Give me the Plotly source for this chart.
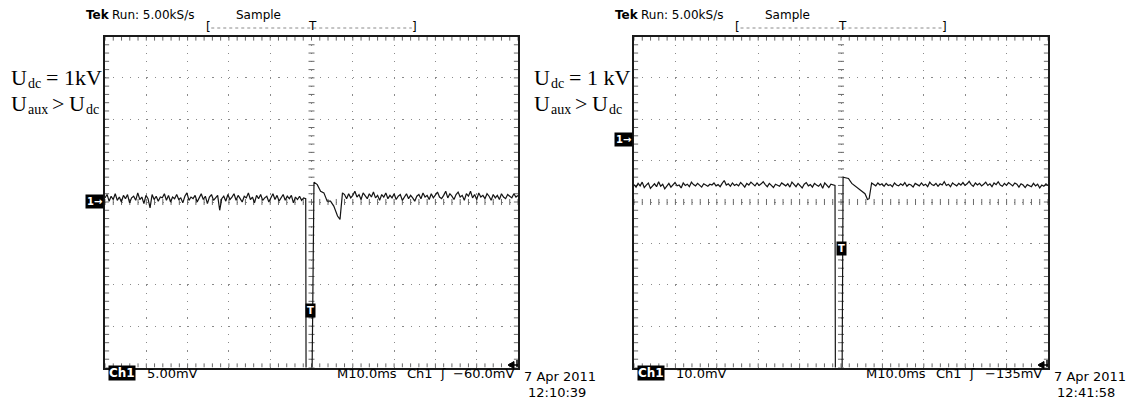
import numpy as np
import plotly.graph_objects as go

# ---------------------------------------------------------------
# Two Tektronix captures of channel 1 (10 ms/div, 5 kS/s)
# ---------------------------------------------------------------
TIME_PER_DIV = 10.0          # ms / div
H_DIVS, V_DIVS = 10, 8

# Capture A : Udc = 1 kV, 5 mV/div, ground at screen centre
a_volts_per_div = 5.0
a_ground_offset_div = 0.0
a_pre = [0.5, 0.9, 0.1, 0.7, 0.3, 1.0, 0.2, 0.6, 0.0, 0.8, 0.4, 0.9, -0.1, 0.5, 0.7, 0.2, 1.1, 0.3,
         0.6, -0.2, 0.8, 0.4, -0.7, 0.9, 0.3, 0.7, 0.1, 0.6, 0.5, 1.0, 0.2, 0.8, 0.0, 0.6, 0.4, 0.9,
         0.3, 0.5, -0.1, 0.7, 1.1, 0.2, 0.6, 0.4, 0.8, 0.0, 0.5, 1.0, 0.3, 0.7, -0.2, 0.6, 0.9, 0.2,
         0.5, 0.8, -1.0, 0.4, 0.7, 0.1, 0.9, 0.3, 0.6, 1.0, 0.2, 0.8, 0.4, 0.0, 0.7, 0.5, 1.1, 0.3,
         0.6, -0.1, 0.8, 0.4, 0.9, 0.2, 0.5, 0.7, 0.0, 0.6, 1.0, 0.3, 0.8, 0.1, 0.5, 0.9, 0.2, 0.7,
         0.4, 0.8, -0.1, 0.6, 0.3, 0.7, 0.2, 0.5]
a_event_t = [-1.4, -1.3, 0.05, 0.6, 1.4, 2.2, 3.0, 3.8, 4.6, 5.4, 6.3, 6.9, 7.5]
a_event_v = [0.4, -25.0, -25.0, 2.4, 2.1, 1.3, 1.1, 0.1, 0.1, -0.5, -1.7, -2.1, 1.1]
a_post = [0.9, 0.4, 1.0, 0.5, 0.8, 1.3, 0.6, 0.9, 0.3, 1.1, 0.7, 0.4, 1.0, 0.6, 1.2, 0.5, 0.8, 0.2,
          0.9, 0.6, 1.1, 0.4, 0.8, 0.5, 1.0, 0.3, 0.7, 0.9, 0.2, 0.6, 1.0, 0.4, 0.8, 0.5, 0.1, 0.7,
          0.9, 0.4, 1.1, 0.6, 0.8, 0.3, 1.0, 0.5, 0.9, 1.2, 0.6, 0.4, 0.8, 1.3, 0.5, 1.0, 0.7, 0.3,
          0.9, 1.2, 0.6, 0.8, 0.2, 1.0, 0.7, 1.3, 0.5, 0.9, 0.3, 1.1, 0.6, 0.8, 0.4, 1.0, 0.7, 0.2,
          0.9, 0.5, 0.8, 0.3, 1.0, 0.6, 0.4, 0.9, 0.7, 0.5, 1.0, 0.6, 0.8]

# Capture B : Udc = 1 kV, 10 mV/div, ground 1.5 div above centre
b_volts_per_div = 10.0
b_ground_offset_div = 1.5
b_pre = [-10.8, -11.4, -10.5, -11.1, -10.2, -11.5, -10.9, -10.4, -11.7, -11.0, -10.6, -11.3, -10.1,
         -11.2, -10.7, -11.8, -11.0, -10.5, -11.4, -10.8, -10.3, -11.1, -10.9, -11.6, -10.4, -11.0,
         -10.7, -11.3, -10.2, -10.8, -11.1, -10.5, -10.9, -11.4, -10.6, -11.0, -11.2, -10.7, -10.9,
         -10.4, -11.1, -10.8, -11.3, -10.5, -9.8, -10.9, -10.6, -11.2, -10.4, -11.0, -10.7, -11.1,
         -10.3, -10.8, -11.4, -10.5, -10.9, -10.2, -10.7, -11.1, -10.4, -11.0, -10.6, -10.1, -10.8,
         -11.3, -10.5, -10.9, -11.5, -10.7, -11.0, -11.2, -10.4, -10.8, -11.1, -10.6, -11.4, -10.2,
         -10.9, -11.3, -10.5, -11.0, -11.6, -10.7, -10.3, -11.1, -10.8, -11.4, -10.5, -10.9, -11.2,
         -10.6, -11.7, -10.4, -11.0, -11.5, -10.7, -10.9]
b_event_t = [-1.45, -1.35, 0.25, 0.5, 1.8, 2.6, 3.8, 5.0, 5.8, 6.4, 6.8, 7.4]
b_event_v = [-11.0, -60.0, -60.0, -9.0, -9.3, -10.5, -11.4, -12.2, -13.0, -14.4, -14.2, -10.4]
b_post = [-10.7, -11.1, -10.4, -10.9, -10.6, -11.2, -10.5, -11.0, -10.8, -11.3, -10.4, -10.9, -11.1,
          -10.6, -11.0, -10.3, -11.2, -10.7, -10.9, -11.4, -10.5, -10.8, -11.1, -10.4, -11.0, -10.7,
          -11.3, -10.2, -10.8, -11.0, -10.5, -11.2, -10.6, -10.9, -10.1, -11.0, -10.7, -11.3, -10.4,
          -10.8, -11.1, -10.5, -10.9, -10.3, -11.0, -10.6, -10.0, -10.8, -11.2, -10.4, -10.9, -10.5,
          -11.1, -10.7, -10.2, -11.0, -10.6, -11.3, -10.4, -10.8, -10.1, -10.9, -11.2, -10.5, -11.0,
          -10.3, -10.8, -11.1, -10.4, -10.7, -11.4, -10.6, -10.9, -11.5, -10.8, -11.0, -11.3, -10.5,
          -11.1, -10.7, -11.6, -10.9, -11.2, -10.6, -11.0]

# ---------------------------------------------------------------
W, H = 1132, 403
TEK_FONT = "DejaVu Sans"
SERIF = "Liberation Serif"


def fx(px):
    return px / W


def fy(py):
    return 1 - py / H


FRAME_TOP, FRAME_BOT = 36.5, 367.5
panels = [
    dict(name="A", x0=105, x1=518, vpd=a_volts_per_div, gnd=a_ground_offset_div,
         pre=a_pre, ev_t=a_event_t, ev_v=a_event_v, post=a_post),
    dict(name="B", x0=634, x1=1048, vpd=b_volts_per_div, gnd=b_ground_offset_div,
         pre=b_pre, ev_t=b_event_t, ev_v=b_event_v, post=b_post),
]

t_half = TIME_PER_DIV * H_DIVS / 2
fig = go.Figure()
layout = dict(width=W, height=H, autosize=False, margin=dict(l=0, r=0, t=0, b=0),
              paper_bgcolor="white", plot_bgcolor="white", showlegend=False)

GRID = dict(showgrid=True, gridcolor="#8a8a8a", gridwidth=1, griddash="1.2px,7.06px",
            zeroline=False, showticklabels=False, ticks="",
            showline=True, mirror=True, linecolor="#1a1a1a", linewidth=1.5)

for i, p in enumerate(panels):
    sfx = "" if i == 0 else str(i + 1)
    xa, ya = "x" + sfx, "y" + sfx
    yc = -p["gnd"] * p["vpd"]                  # screen centre in volts
    ylo, yhi = yc - V_DIVS / 2 * p["vpd"], yc + V_DIVS / 2 * p["vpd"]

    layout["xaxis" + sfx] = dict(GRID, domain=[fx(p["x0"]), fx(p["x1"])], range=[-t_half, t_half],
                                 tick0=0, dtick=TIME_PER_DIV, anchor=ya, fixedrange=True)
    layout["yaxis" + sfx] = dict(GRID, domain=[fy(FRAME_BOT), fy(FRAME_TOP)], range=[ylo, yhi],
                                 tick0=yc, dtick=p["vpd"], anchor=xa, fixedrange=True)

    # graticule tick marks: centre cross and frame edges, 5 per division
    hx, hy = 0.073 * TIME_PER_DIV, 0.073 * p["vpd"]
    ex, ey = 0.1 * TIME_PER_DIV, 0.1 * p["vpd"]
    gx, gy = [], []
    for k in range(H_DIVS * 5 + 1):
        x = -t_half + k * TIME_PER_DIV / 5
        gx += [x, x, None, x, x, None, x, x, None]
        gy += [yc - hy, yc + hy, None, yhi, yhi - ey, None, ylo, ylo + ey, None]
    for k in range(V_DIVS * 5 + 1):
        y = ylo + k * p["vpd"] / 5
        gx += [-hx, hx, None, -t_half, -t_half + ex, None, t_half - ex, t_half, None]
        gy += [y, y, None, y, y, None, y, y, None]
    fig.add_trace(go.Scatter(x=gx, y=gy, mode="lines", xaxis=xa, yaxis=ya,
                             line=dict(color="#6a6a6a", width=1), hoverinfo="skip"))

    # the captured waveform
    t_pre = np.linspace(-t_half, p["ev_t"][0] - 0.5, len(p["pre"]))
    t_post = np.linspace(p["ev_t"][-1] + 0.5, t_half, len(p["post"]))
    t = np.concatenate([t_pre, p["ev_t"], t_post])
    v = np.concatenate([p["pre"], p["ev_v"], p["post"]])
    fig.add_trace(go.Scatter(x=t, y=v, mode="lines", xaxis=xa, yaxis=ya,
                             line=dict(color="#141414", width=1.2), hoverinfo="skip"))

fig.update_layout(**layout)

ann = []


def text(x, y, s, size=13, anchor="left", family=TEK_FONT, color="black", bg=None, pad=0,
         weight="normal"):
    ann.append(dict(xref="paper", yref="paper", x=fx(x), y=fy(y), text=s, showarrow=False,
                    xanchor=anchor, yanchor="middle", borderpad=pad,
                    bgcolor=bg if bg else "rgba(0,0,0,0)",
                    font=dict(family=family, size=size, color=color, weight=weight)))


shapes = []
for i, p in enumerate(panels):
    x0, x1 = p["x0"], p["x1"]
    xm = (x0 + x1) / 2
    span = x1 - x0
    # header
    text(x0 - 20, 15, "Tek", size=12, weight="bold")
    text(x0 + 6, 15, "Run: 5.00kS/s", size=12)
    text(x0 + 130, 15, "Sample", size=12)
    # record-position bracket
    bl, br = x0 + span * 0.25, x0 + span * 0.75
    text(bl, 27, "[", size=12, anchor="center")
    text(br, 27, "]", size=12, anchor="center")
    text(xm + 1, 26, "T", size=12, anchor="center")
    shapes.append(dict(type="line", xref="paper", yref="paper", x0=fx(bl + 3), x1=fx(br - 3),
                       y0=fy(28), y1=fy(28), line=dict(color="#8a8a8a", width=1, dash="dot")))
    # ground reference marker
    gnd_y = FRAME_TOP + (V_DIVS / 2 - p["gnd"]) * (FRAME_BOT - FRAME_TOP) / V_DIVS
    text(x0 - 1, gnd_y, "1→", size=10, anchor="right", color="white", bg="black", pad=1,
         weight="bold")
    # bottom read-out
    text(x0 + 3, 373, "Ch1", size=12, color="white", bg="black", pad=0, weight="bold")
    text(x0 + 231, 373, "M10.0ms", size=13)
    text(x0 + 301, 373, "Ch1", size=13)
    text(x0 + 334, 373, "ʃ", size=13)
    # trigger level indicator (bottom right corner)
    shapes.append(dict(type="path", xref="paper", yref="paper",
                       path=f"M {fx(x1 - 10)} {fy(365)} L {fx(x1 - 4)} {fy(361.5)} "
                            f"L {fx(x1 - 4)} {fy(368.5)} Z",
                       fillcolor="black", line=dict(color="black", width=1)))
    shapes.append(dict(type="line", xref="paper", yref="paper", x0=fx(x1 - 4), x1=fx(x1),
                       y0=fy(365), y1=fy(365), line=dict(color="black", width=1.5)))
    shapes.append(dict(type="line", xref="paper", yref="paper", x0=fx(x1 - 1), x1=fx(x1 - 1),
                       y0=fy(360), y1=fy(367), line=dict(color="black", width=1.5)))

# Capture-specific read-outs
text(146, 373, "5.00mV", size=13)
text(516, 373, "−60.0mV", size=13, anchor="right")
text(523, 376, "7 Apr 2011", size=13)
text(527, 392, "12:10:39", size=13)

text(675, 373, "10.0mV", size=13)
text(1043, 373, "−135mV", size=13, anchor="right")
text(1053, 376, "7 Apr 2011", size=13)
text(1056, 392, "12:41:58", size=13)

# trigger markers on the waveforms
text(310, 310, "T", size=10, anchor="center", color="white", bg="black", pad=1, weight="bold")
text(841, 248, "T", size=10, anchor="center", color="white", bg="black", pad=1, weight="bold")


# operating-point captions: symbol, subscript and the rest set as separate runs
def caption(x, y, runs):
    for dx, s, sub in runs:
        if sub:
            text(x + dx, y + 6, s, size=14, family=SERIF)
        else:
            text(x + dx, y, s, size=22, family=SERIF)


line_aux = [(0, "U", False), (17, "aux", True), (41, ">", False), (58, "U", False), (75, "dc", True)]
caption(10, 77, [(0, "U", False), (17, "dc", True), (35, "= 1kV", False)])
caption(10, 103, line_aux)
caption(533, 77, [(0, "U", False), (17, "dc", True), (35, "= 1 kV", False)])
caption(533, 103, line_aux)

fig.update_layout(annotations=ann, shapes=shapes)
fig.write_html("out.html")
